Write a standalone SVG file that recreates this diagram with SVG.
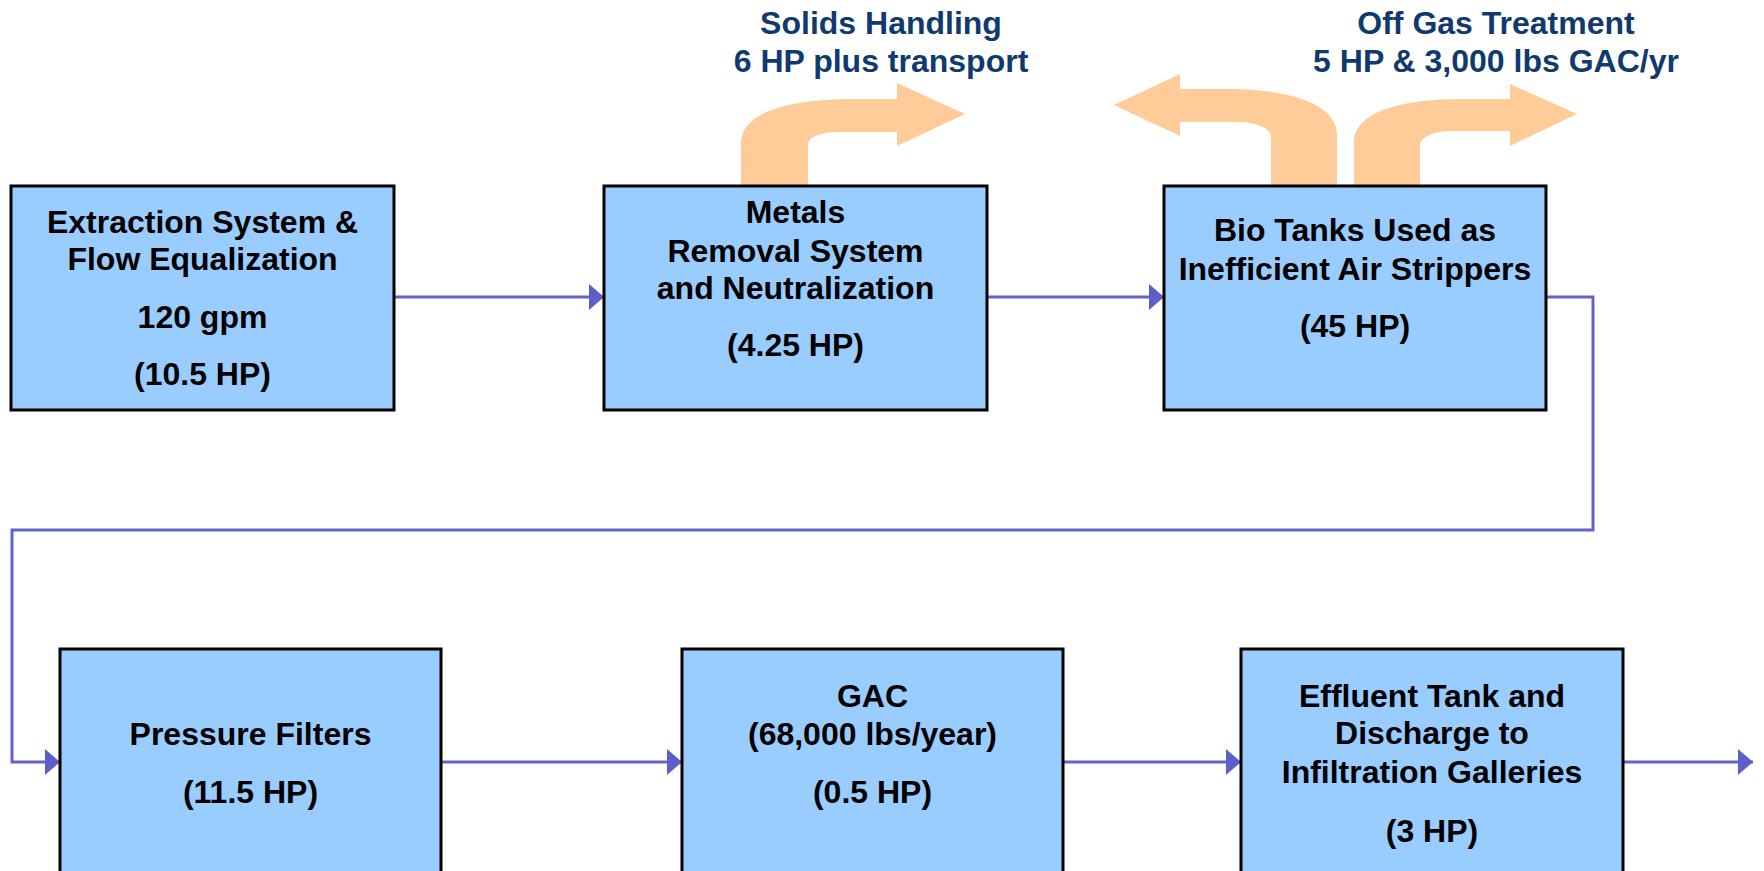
<svg xmlns="http://www.w3.org/2000/svg" width="1764" height="871" viewBox="0 0 1764 871">
<style>
.box{fill:#99ccff;stroke:#000;stroke-width:3}
.t{font-family:"Liberation Sans",Arial,sans-serif;font-weight:bold;font-size:32px;fill:#000;text-anchor:middle}
.lbl{font-family:"Liberation Sans",Arial,sans-serif;font-weight:bold;font-size:32px;fill:#103a6e;text-anchor:middle}
.flow{fill:#ffcc99;stroke:none}
.conn{fill:none;stroke:#6363c9;stroke-width:3}
</style>
<defs>
<marker id="ah" markerUnits="userSpaceOnUse" markerWidth="16" markerHeight="28" refX="15" refY="13" orient="auto">
<path d="M0,0 L15,13 L0,26 Z" fill="#5c5fc9"/>
</marker>
</defs>
<rect width="1764" height="871" fill="#fff"/>

<g id="side-flows">
<path class="flow" d="M741,187 L741,143 C741,112 790,99 853,99 L897,99 L897,83 L965,114 L897,146 L897,132 L840,132 C822,132 808,136 808,145 L808,187 Z"/>
<path class="flow" d="M1337,187 L1337,135 C1337,104 1290,89 1227,89 L1180,89 L1180,74 L1114,105 L1180,136 L1180,122 L1236,122 C1256,122 1271,128 1271,137 L1271,187 Z"/>
<path class="flow" d="M1354,187 L1354,143 C1354,112 1400,99 1463,99 L1510,99 L1510,84 L1577,114 L1510,146 L1510,131 L1452,131 C1433,131 1420,137 1420,146 L1420,187 Z"/>
<text class="lbl" x="881" y="34">Solids Handling</text>
<text class="lbl" x="881" y="72">6 HP plus transport</text>
<text class="lbl" x="1496" y="34">Off Gas Treatment</text>
<text class="lbl" x="1496" y="72">5 HP &amp; 3,000 lbs GAC/yr</text>
</g>

<g id="connectors">
<path class="conn" d="M394,297 L604,297" marker-end="url(#ah)"/>
<path class="conn" d="M987,297 L1164,297" marker-end="url(#ah)"/>
<path class="conn" d="M1546,297 L1593,297 L1593,530 L12,530 L12,762 L60,762" marker-end="url(#ah)"/>
<path class="conn" d="M441,762 L682,762" marker-end="url(#ah)"/>
<path class="conn" d="M1063,762 L1241,762" marker-end="url(#ah)"/>
<path class="conn" d="M1623,762 L1753,762" marker-end="url(#ah)"/>
</g>

<g id="extraction">
<rect class="box" x="11" y="186" width="383" height="224"/>
<text class="t" x="202.5" y="233">Extraction System &amp;</text>
<text class="t" x="202.5" y="270">Flow Equalization</text>
<text class="t" x="202.5" y="328">120 gpm</text>
<text class="t" x="202.5" y="385">(10.5 HP)</text>
</g>

<g id="metals">
<rect class="box" x="604" y="186" width="383" height="224"/>
<text class="t" x="795.5" y="223">Metals</text>
<text class="t" x="795.5" y="262">Removal System</text>
<text class="t" x="795.5" y="299">and Neutralization</text>
<text class="t" x="795.5" y="356">(4.25 HP)</text>
</g>

<g id="biotanks">
<rect class="box" x="1164" y="186" width="382" height="224"/>
<text class="t" x="1355" y="241">Bio Tanks Used as</text>
<text class="t" x="1355" y="280">Inefficient Air Strippers</text>
<text class="t" x="1355" y="337">(45 HP)</text>
</g>

<g id="pressure">
<rect class="box" x="60" y="649" width="381" height="240"/>
<text class="t" x="250.5" y="745">Pressure Filters</text>
<text class="t" x="250.5" y="803">(11.5 HP)</text>
</g>

<g id="gac">
<rect class="box" x="682" y="649" width="381" height="240"/>
<text class="t" x="872.5" y="707">GAC</text>
<text class="t" x="872.5" y="745">(68,000 lbs/year)</text>
<text class="t" x="872.5" y="803">(0.5 HP)</text>
</g>

<g id="effluent">
<rect class="box" x="1241" y="649" width="382" height="240"/>
<text class="t" x="1432" y="707">Effluent Tank and</text>
<text class="t" x="1432" y="744">Discharge to</text>
<text class="t" x="1432" y="783">Infiltration Galleries</text>
<text class="t" x="1432" y="842">(3 HP)</text>
</g>
</svg>
